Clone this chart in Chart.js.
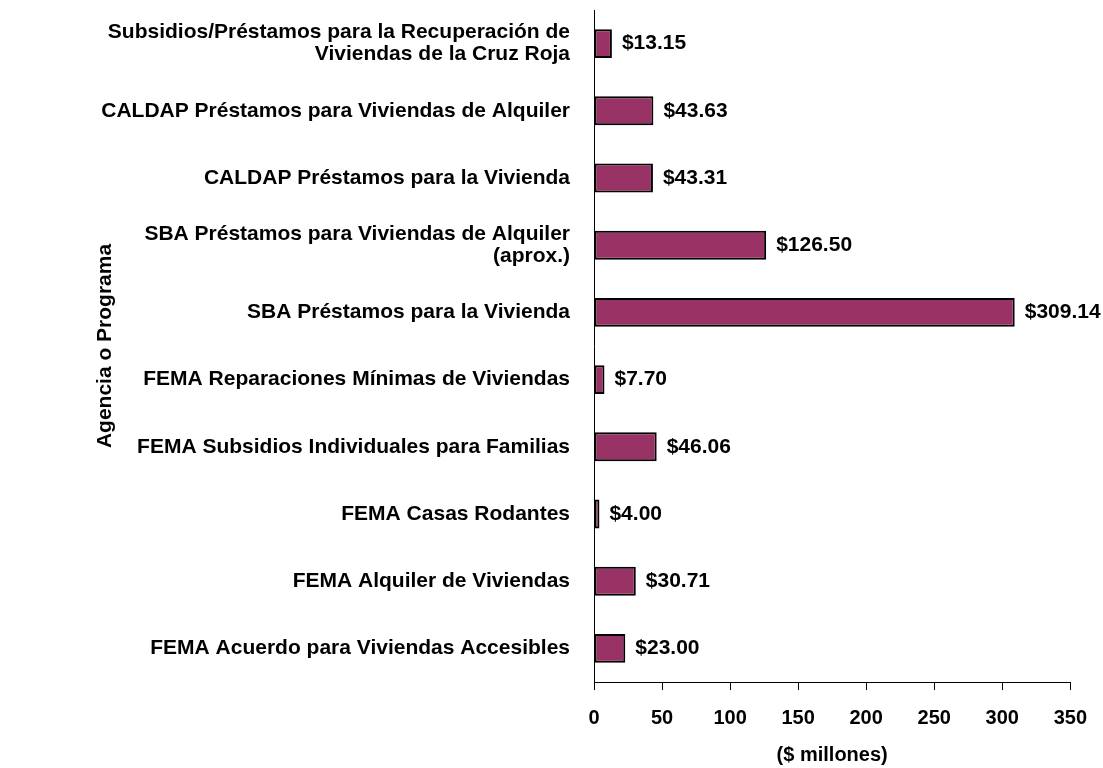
<!DOCTYPE html>
<html>
<head>
<meta charset="utf-8">
<script src="https://cdn.jsdelivr.net/npm/chart.js@4.4.7/dist/chart.umd.min.js"></script>
<style>
  html, body { margin: 0; padding: 0; background: #fff; }
  #wrap { width: 1103px; height: 768px; }
</style>
</head>
<body>
<div id="wrap"><canvas id="programChart" width="1103" height="768"></canvas></div>
<script>
const categories = [
  ["Subsidios/Préstamos para la Recuperación de", "Viviendas de la Cruz Roja"],
  "CALDAP Préstamos para Viviendas de Alquiler",
  "CALDAP Préstamos para la Vivienda",
  ["SBA Préstamos para Viviendas de Alquiler", "(aprox.)"],
  "SBA Préstamos para la Vivienda",
  "FEMA Reparaciones Mínimas de Viviendas",
  "FEMA Subsidios Individuales para Familias",
  "FEMA Casas Rodantes",
  "FEMA Alquiler de Viviendas",
  "FEMA Acuerdo para Viviendas Accesibles"
];
const amounts = [13.15, 43.63, 43.31, 126.50, 309.14, 7.70, 46.06, 4.00, 30.71, 23.00];
const xTicks = [0, 50, 100, 150, 200, 250, 300, 350];

const FONT = "'Liberation Sans', Arial, sans-serif";

// draws "$xx.xx" just past the end of each bar
const valueLabels = {
  id: 'valueLabels',
  afterDatasetsDraw(chart) {
    const ctx = chart.ctx;
    const meta = chart.getDatasetMeta(0);
    ctx.save();
    ctx.font = "bold 21px " + FONT;
    ctx.fillStyle = '#000';
    ctx.textAlign = 'left';
    ctx.textBaseline = 'middle';
    meta.data.forEach((bar, i) => {
      ctx.fillText('$' + amounts[i].toFixed(2), bar.x + 10, bar.y);
    });
    ctx.restore();
  }
};

new Chart(document.getElementById('programChart').getContext('2d'), {
  type: 'bar',
  data: {
    labels: categories,
    datasets: [{
      data: amounts,
      backgroundColor: '#993366',
      borderColor: '#000',
      borderWidth: 2,
      borderSkipped: false,
      categoryPercentage: 1,
      barPercentage: 0.43
    }]
  },
  options: {
    indexAxis: 'y',
    responsive: false,
    animation: false,
    layout: { padding: { top: 10, left: 93, right: 32, bottom: 0 } },
    plugins: {
      legend: { display: false },
      tooltip: { enabled: false }
    },
    scales: {
      x: {
        min: 0,
        max: 350,
        afterBuildTicks: (scale) => { scale.ticks = xTicks.map(v => ({ value: v })); },
        afterFit: (scale) => { scale.height = 86; },
        grid: { drawOnChartArea: false, drawTicks: true, tickLength: 8, color: '#000' },
        border: { color: '#000', width: 1 },
        ticks: {
          color: '#000',
          padding: 16,
          font: { family: FONT, size: 20, weight: 'bold' }
        },
        title: {
          display: true,
          text: '($ millones)',
          color: '#000',
          padding: { top: 0, bottom: 1 },
          font: { family: FONT, size: 20, weight: 'bold' }
        }
      },
      y: {
        afterFit: (scale) => {
          scale.width = 501;
          scale.paddingTop = 0;
          scale.paddingBottom = 0;
        },
        grid: { display: true, drawOnChartArea: false, drawTicks: false },
        border: { color: '#000', width: 1 },
        ticks: {
          color: '#000',
          padding: 24,
          font: { family: FONT, size: 21, weight: 'bold', lineHeight: 1.05 }
        },
        title: {
          display: true,
          text: 'Agencia o Programa',
          color: '#000',
          padding: 0,
          font: { family: FONT, size: 21, weight: 'bold' }
        }
      }
    }
  },
  plugins: [valueLabels]
});
</script>
</body>
</html>
